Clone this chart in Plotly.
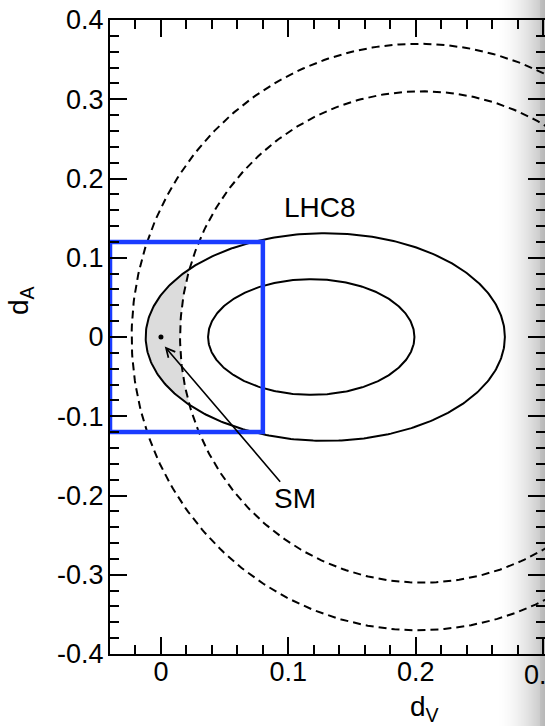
import numpy as np
import plotly.graph_objects as go

# ---- data ----
# ellipses: (centre x, centre y, semi-axis x, semi-axis y)
lhc8_inner = [0.118, 0.0, 0.081, 0.073]
lhc8_outer = [0.129, 0.0, 0.141, 0.131]
dash_inner = [0.205, 0.0, 0.190, 0.310]
dash_outer = [0.202, 0.0, 0.225, 0.370]
box_x = [-0.04, 0.08]
box_y = [-0.12, 0.12]
sm_point = [0.0, 0.0]
sm_label = [0.105, -0.204]
lhc8_label = [0.125, 0.163]
x_ticks = [0, 0.1, 0.2]
y_ticks = [-0.4, -0.3, -0.2, -0.1, 0, 0.1, 0.2, 0.3, 0.4]
x_ticktext = ["0", "0.1", "0.2"]
y_ticktext = ["-0.4", "-0.3", "-0.2", "-0.1", "0", "0.1", "0.2", "0.3", "0.4"]
x_edge_tick = [0.3, "0.3"]
x_range = [-0.04, 0.3015]
y_range = [-0.4, 0.4]

W, H = 545, 726
L, R, T, B = 110, 0, 20, 72
PW, PH = W - L - R, H - T - B


def px_x(px):
    return (px - L) / PW


def px_y(py):
    return (H - B - py) / PH


def ellipse(p, n=400):
    t = np.linspace(0, 2 * np.pi, n)
    return p[0] + p[2] * np.cos(t), p[1] + p[3] * np.sin(t)


fig = go.Figure()

# shaded region: inside outer LHC8 ellipse, left of inner dashed ellipse
ys = np.linspace(-0.13, 0.13, 2001)
ok_s = np.abs(ys) < lhc8_outer[3]
xl = lhc8_outer[0] - lhc8_outer[2] * np.sqrt(np.clip(1 - (ys / lhc8_outer[3]) ** 2, 0, None))
xr = dash_inner[0] - dash_inner[2] * np.sqrt(np.clip(1 - (ys / dash_inner[3]) ** 2, 0, None))
m = ok_s & (xl < xr)
sx = np.concatenate([xl[m], xr[m][::-1]])
sy = np.concatenate([ys[m], ys[m][::-1]])
fig.add_trace(go.Scatter(x=sx, y=sy, fill="toself", fillcolor="#dcdcdc",
                         line=dict(width=0), mode="lines", hoverinfo="skip"))

for p, dash in [(lhc8_inner, "solid"), (lhc8_outer, "solid"),
                (dash_inner, "8px,5px"), (dash_outer, "8px,5px")]:
    ex, ey = ellipse(p)
    fig.add_trace(go.Scatter(x=ex, y=ey, mode="lines",
                             line=dict(color="black", width=2, dash=dash),
                             hoverinfo="skip"))

# blue box
fig.add_trace(go.Scatter(x=[box_x[0], box_x[1], box_x[1], box_x[0], box_x[0]],
                         y=[box_y[0], box_y[0], box_y[1], box_y[1], box_y[0]],
                         mode="lines", line=dict(color="#1a3cff", width=4.5),
                         hoverinfo="skip"))

# SM point
fig.add_trace(go.Scatter(x=[sm_point[0]], y=[sm_point[1]], mode="markers",
                         marker=dict(color="black", size=5), hoverinfo="skip"))

FAM = "Liberation Sans, Arial, Helvetica, sans-serif"
tick_font = dict(family=FAM, size=27, color="black")
label_font = dict(family=FAM, size=28, color="black")

fig.add_annotation(x=sm_point[0] + 0.003, y=sm_point[1] - 0.012, xref="x", yref="y",
                   ax=sm_label[0], ay=sm_label[1], axref="x", ayref="y",
                   text="SM", showarrow=True, arrowhead=5, arrowsize=1.1,
                   arrowwidth=1.6, arrowcolor="black", font=label_font)
fig.add_annotation(x=lhc8_label[0], y=lhc8_label[1], xref="x", yref="y",
                   text="LHC8", showarrow=False, font=label_font)

# tick label at the cut-off right edge (partly outside the page)
fig.add_annotation(x=x_edge_tick[0], y=px_y(675), xref="x", yref="paper",
                   xanchor="center", yanchor="middle",
                   text=x_edge_tick[1], showarrow=False, font=tick_font)

fig.add_annotation(x=px_x(424), y=px_y(708), xref="paper", yref="paper",
                   xanchor="center", yanchor="middle",
                   text="d<sub>V</sub>", showarrow=False, font=label_font)
fig.add_annotation(x=px_x(20), y=px_y(300), xref="paper", yref="paper",
                   xanchor="center", yanchor="middle",
                   text="d<sub>A</sub>", showarrow=False, font=label_font, textangle=-90)

# page-fold shadow on the right edge
x0 = 496
for i in range(x0, W):
    f = (i + 1 - x0) / (W - x0)
    a = 0.24 * f ** 1.8
    if i >= W - 5:
        a += 0.04
    fig.add_shape(type="rect", xref="paper", yref="paper",
                  x0=px_x(i), x1=px_x(i + 1), y0=px_y(H), y1=px_y(0),
                  fillcolor="black", opacity=a, line=dict(width=0), layer="above")

axis_common = dict(showgrid=False, zeroline=False, showline=True, linecolor="black",
                   linewidth=2, mirror="ticks", ticks="inside", ticklen=17,
                   tickwidth=1.5, tickcolor="black", tickfont=tick_font,
                   minor=dict(ticks="inside", ticklen=9, tickwidth=1.5,
                              tickcolor="black", dtick=0.02, showgrid=False))

fig.update_xaxes(range=x_range, tickvals=x_ticks + [x_edge_tick[0]],
                 ticktext=x_ticktext + [""],
                 ticklabelstandoff=-7, automargin=False, **axis_common)
fig.update_yaxes(range=y_range, tickvals=y_ticks, ticktext=y_ticktext,
                 ticklabelstandoff=-1, automargin=False, **axis_common)

fig.update_layout(width=W, height=H, margin=dict(l=L, r=R, t=T, b=B, autoexpand=False),
                  plot_bgcolor="white", paper_bgcolor="white", showlegend=False)

fig.write_html("out.html", config={"displayModeBar": False},
               post_script="document.body.style.margin='0';document.body.style.overflow='hidden';")
